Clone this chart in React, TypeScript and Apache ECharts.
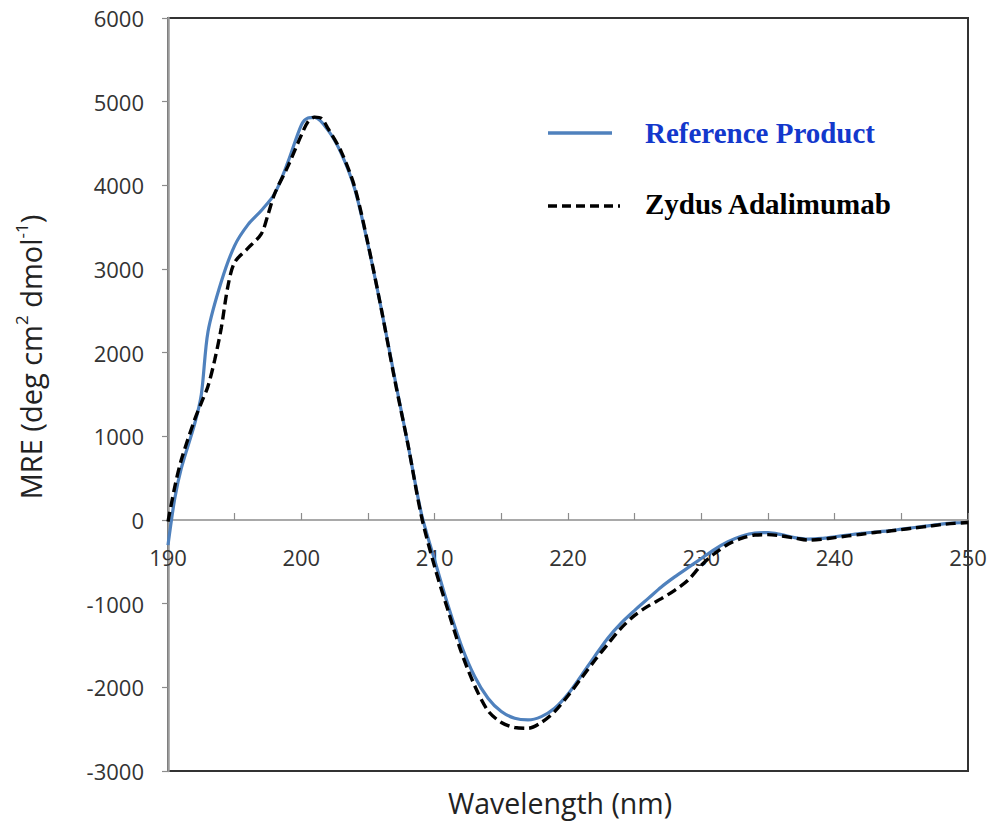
import React, { useEffect, useRef } from "react";
import * as echarts from "echarts";

// Wavelength grid (nm) for the Reference Product trace
const refWavelength = [
  190, 190.5, 191, 192, 192.5, 193, 194, 195, 196, 197, 198, 199, 200, 200.5,
  201, 202, 203, 204, 205, 206, 207, 208, 209, 210, 211, 212, 213, 214, 215,
  216, 217, 218, 219, 220, 221, 222, 223, 224, 225, 226, 227, 228, 229, 230,
  231, 232, 233, 234, 235, 236, 237, 238, 239, 240, 241, 242, 243, 244, 245,
  246, 247, 248, 249, 250,
];
// MRE values (deg cm2 dmol-1) for the Reference Product
const refMRE = [
  -300, 250, 620, 1150, 1500, 2250, 2850, 3280, 3530, 3700, 3900, 4280, 4720,
  4805, 4812, 4660, 4380, 3960, 3290, 2520, 1700, 900, 80, -480, -1020, -1500,
  -1870, -2130, -2290, -2370, -2390, -2350, -2250, -2080, -1860, -1630, -1410,
  -1230, -1080, -940, -800, -680, -570, -460, -350, -260, -195, -155, -150,
  -175, -210, -228, -220, -200, -180, -160, -145, -130, -110, -90, -70, -50,
  -35, -30,
];

// Wavelength grid (nm) for the Zydus Adalimumab trace
const zydusWavelength = [
  190, 190.5, 191, 192, 192.5, 193, 193.5, 194, 194.5, 195, 196, 197, 197.5,
  198, 199, 200, 200.5, 201, 201.5, 202, 203, 204, 205, 206, 207, 208, 209,
  210, 211, 212, 213, 214, 215, 216, 217, 218, 219, 220, 221, 222, 223, 224,
  225, 226, 227, 228, 229, 230, 231, 232, 233, 234, 235, 236, 237, 238, 239,
  240, 241, 242, 243, 244, 245, 246, 247, 248, 249, 250,
];
// MRE values (deg cm2 dmol-1) for Zydus Adalimumab
const zydusMRE = [
  -20, 390, 720, 1200, 1400, 1600, 1910, 2300, 2800, 3080, 3250, 3420, 3650,
  3900, 4230, 4600, 4760, 4815, 4800, 4680, 4400, 3980, 3300, 2520, 1680, 900,
  50, -560, -1080, -1580, -1980, -2280, -2420, -2480, -2490, -2420, -2290,
  -2100, -1890, -1680, -1480, -1290, -1140, -1030, -940, -840, -720, -540,
  -400, -290, -220, -180, -175, -190, -215, -240, -230, -210, -190, -170,
  -150, -135, -115, -95, -75, -55, -40, -30,
];

const yTicks = { min: -3000, max: 6000, step: 1000 };
const xTicks = { min: 190, max: 250, step: 10 };

const seriesNames = ["Reference Product", "Zydus Adalimumab"];

const AXIS_FONT = "'Open Sans', 'Liberation Sans', sans-serif";
const LEGEND_FONT = "'Liberation Serif', 'DejaVu Serif', serif";
const REF_COLOR = "#4F81BD";

const GRID = { left: 168, right: 22, top: 18, bottom: 52 };
const CHART_H = 823;

export default function App() {
  const ref = useRef<HTMLDivElement>(null);

  useEffect(() => {
    if (!ref.current) return;
    const chart = echarts.init(ref.current, undefined, { renderer: "svg" });

    const refData = refWavelength.map((w, i) => [w, refMRE[i]]);
    const zydusData = zydusWavelength.map((w, i) => [w, zydusMRE[i]]);

    // the wavelength axis sits on MRE = 0: lift it from the grid's bottom edge
    const plotH = CHART_H - GRID.top - GRID.bottom;
    const zeroLift =
      (plotH * (0 - yTicks.min)) / (yTicks.max - yTicks.min);

    chart.setOption({
      animation: false,
      backgroundColor: "#ffffff",
      grid: {
        ...GRID,
        show: true,
        borderColor: "#333333",
        borderWidth: 2,
        backgroundColor: "transparent",
      },
      xAxis: {
        type: "value",
        position: "bottom",
        offset: -zeroLift,
        min: xTicks.min,
        max: xTicks.max,
        interval: xTicks.step,
        axisLine: {
          onZero: false,
          lineStyle: { color: "#8c8c8c", width: 1.5 },
        },
        axisTick: {
          show: true,
          inside: true,
          length: 7,
          lineStyle: { color: "#8c8c8c", width: 1.2 },
        },
        minorTick: {
          show: true,
          splitNumber: 2,
          length: 7,
          lineStyle: { color: "#8c8c8c", width: 1.2 },
        },
        splitLine: { show: false },
        axisLabel: {
          margin: 26,
          fontFamily: AXIS_FONT,
          fontSize: 22,
          color: "#333333",
        },
      },
      yAxis: {
        type: "value",
        min: yTicks.min,
        max: yTicks.max,
        interval: yTicks.step,
        axisLine: {
          show: true,
          onZero: false,
          lineStyle: { color: "#9a9a9a", width: 2.5 },
        },
        axisTick: {
          show: true,
          inside: false,
          length: 6,
          lineStyle: { color: "#8c8c8c", width: 1.2 },
        },
        splitLine: { show: false },
        axisLabel: {
          margin: 24,
          fontFamily: AXIS_FONT,
          fontSize: 22,
          color: "#333333",
          formatter: (v: number) => String(v),
        },
      },
      series: [
        {
          name: seriesNames[0],
          type: "line",
          data: refData,
          smooth: 0.3,
          showSymbol: false,
          symbol: "none",
          lineStyle: { color: REF_COLOR, width: 3.2 },
          z: 2,
        },
        {
          name: seriesNames[1],
          type: "line",
          data: zydusData,
          smooth: 0.3,
          showSymbol: false,
          symbol: "none",
          lineStyle: { color: "#000000", width: 3.4, type: [10, 5] },
          z: 3,
        },
      ],
      graphic: [
        // legend swatches and labels
        {
          type: "line",
          shape: { x1: 548, y1: 133, x2: 612, y2: 133 },
          style: { stroke: REF_COLOR, lineWidth: 3.5 },
        },
        {
          type: "text",
          x: 645,
          y: 133,
          style: {
            text: seriesNames[0],
            fontFamily: LEGEND_FONT,
            fontWeight: "bold",
            fontSize: 29,
            fill: "#1338cc",
            verticalAlign: "middle",
            align: "left",
          },
        },
        {
          type: "line",
          shape: { x1: 548, y1: 206, x2: 620, y2: 206 },
          style: { stroke: "#000000", lineWidth: 3.5, lineDash: [9, 5] },
        },
        {
          type: "text",
          x: 645,
          y: 204,
          style: {
            text: seriesNames[1],
            fontFamily: LEGEND_FONT,
            fontWeight: "bold",
            fontSize: 29,
            fill: "#000000",
            verticalAlign: "middle",
            align: "left",
          },
        },
        // axis titles
        {
          type: "text",
          x: 560,
          y: 803,
          style: {
            text: "Wavelength (nm)",
            fontFamily: AXIS_FONT,
            fontSize: 28.5,
            fill: "#222222",
            align: "center",
            verticalAlign: "middle",
          },
        },
        {
          type: "text",
          x: 30,
          y: 357,
          rotation: Math.PI / 2,
          style: {
            text: "{b|MRE (deg cm}{s|2}{b| dmol}{s|-1}{b|)}",
            align: "center",
            verticalAlign: "middle",
            fill: "#222222",
            rich: {
              b: {
                fontFamily: AXIS_FONT,
                fontSize: 29,
                lineHeight: 34,
                fill: "#222222",
                verticalAlign: "middle",
              },
              s: {
                fontFamily: AXIS_FONT,
                fontSize: 17,
                lineHeight: 17,
                fill: "#222222",
                verticalAlign: "top",
              },
            },
          },
        },
      ],
    });

    return () => chart.dispose();
  }, []);

  return (
    <div
      ref={ref}
      style={{ position: "fixed", left: 0, top: 0, width: 990, height: CHART_H }}
    />
  );
}
